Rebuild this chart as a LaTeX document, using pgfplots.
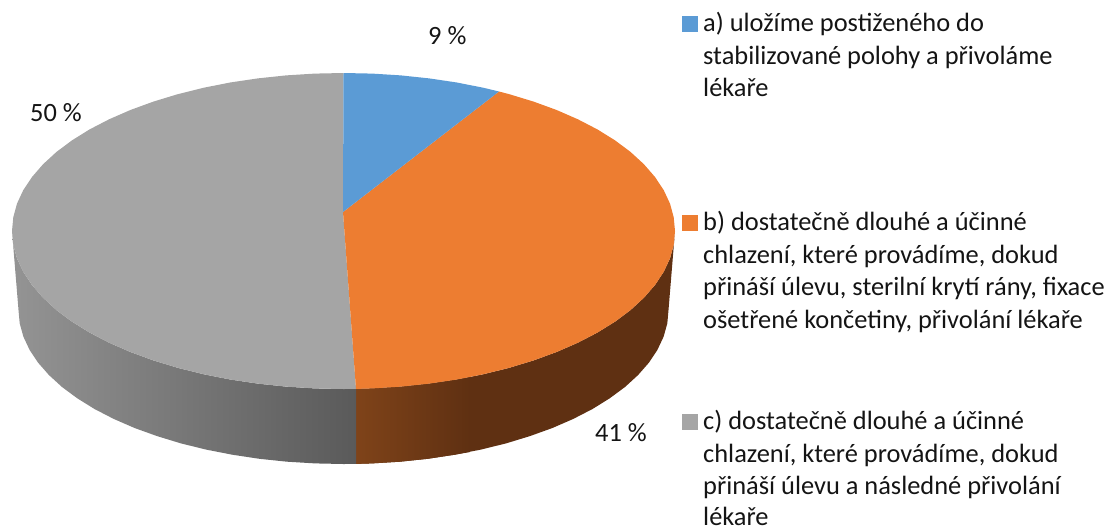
\documentclass[border=0pt]{standalone}
\usepackage{fontspec}
\setmainfont{Carlito}
\usepackage{pgfplots}
\pgfplotsset{compat=1.18}
\definecolor{cblue}{HTML}{5B9BD5}
\definecolor{corange}{HTML}{ED7D31}
\definecolor{cgray}{HTML}{A5A5A5}
\newcommand{\lt}[3]{\node[anchor=base west,inner sep=0pt,font=\fontsize{26.4}{30}\selectfont,text=black!92] at (axis cs:#1,#2) {#3};}
\begin{document}
\begin{tikzpicture}
\path[use as bounding box] (0,0) rectangle (1115pt,528pt);
\begin{axis}[
  at={(0,0)}, anchor=south west,
  scale only axis, width=1115pt, height=528pt,
  xmin=0, xmax=1115, ymin=0, ymax=528, y dir=reverse,
  hide axis, clip=false]
% side of the orange slice
\addplot[draw=none, fill={rgb,255:red,95;green,48;blue,18}] coordinates {
(356,388.9)(372.4,388.4)(401,386.6)(429.3,383.6)(456.9,379.5)(483.6,374.2)(509.3,367.8)(533.6,360.4)(556.6,352)(577.9,342.7)(597.4,332.6)(615.1,321.6)(630.6,310)(643.9,297.8)(655,285)(663.7,271.9)(670,258.4)(673.7,244.8)(675,231)
(668.5,310)(667.3,323.4)(663.6,336.7)(657.4,349.9)(648.9,362.7)(638,375.1)(625,387)(609.7,398.3)(592.5,409)(573.3,418.9)(552.4,428)(529.9,436.1)(506,443.4)(480.8,449.6)(454.7,454.7)(427.6,458.8)(399.9,461.7)(371.8,463.4)(356,463.9)};
\addplot[draw=none, left color={rgb,255:red,127;green,67;blue,25}, right color={rgb,255:red,95;green,48;blue,18}] coordinates {
(356,388.9)(372.4,388.4)(401,386.6)(429.3,383.6)(456.9,379.5)(470,377)
(470,452)(454.7,454.7)(427.6,458.8)(399.9,461.7)(371.8,463.4)(356,463.9)};
% side of the grey slice
\addplot[draw=none, left color={rgb,255:red,148;green,148;blue,148}, right color={rgb,255:red,90;green,90;blue,90}] coordinates {
(356,388.9)(343.5,389)(314.6,388.4)(286,386.6)(257.7,383.6)(230.1,379.5)(203.4,374.2)(177.7,367.8)(153.4,360.4)(130.4,352)(109.1,342.7)(89.6,332.6)(71.9,321.6)(56.4,310)(43.1,297.8)(32,285)(23.3,271.9)(17,258.4)(13.3,244.8)(12,231)
(18.5,310)(19.7,323.4)(23.4,336.7)(29.6,349.9)(38.1,362.7)(49,375.1)(62,387)(77.3,398.3)(94.5,409)(113.7,418.9)(134.6,428)(157.1,436.1)(181,443.4)(206.2,449.6)(232.3,454.7)(259.4,458.8)(287.1,461.7)(315.2,463.4)(343.5,464)(356,463.9)};
% top faces
\addplot[draw=none, fill=cgray] coordinates {
(343,212)(356,388.9)(343.5,389)(314.6,388.4)(286,386.6)(257.7,383.6)(230.1,379.5)(203.4,374.2)(177.7,367.8)(153.4,360.4)(130.4,352)(109.1,342.7)(89.6,332.6)(71.9,321.6)(56.4,310)(43.1,297.8)(32,285)(23.3,271.9)(17,258.4)(13.3,244.8)(12,231)
(13.3,217.2)(17,203.6)(23.3,190.1)(32,177)(43.1,164.2)(56.4,152)(71.9,140.4)(89.6,129.4)(109.1,119.3)(130.4,110)(153.4,101.6)(177.7,94.2)(203.4,87.8)(230.1,82.5)(257.7,78.4)(286,75.4)(314.6,73.6)(343.5,73)};
\addplot[draw=none, fill=corange] coordinates {
(343,212)(499,91.5)(509.3,94.2)(533.6,101.6)(556.6,110)(577.9,119.3)(597.4,129.4)(615.1,140.4)(630.6,152)(643.9,164.2)(655,177)(663.7,190.1)(670,203.6)(673.7,217.2)(675,231)
(673.7,244.8)(670,258.4)(663.7,271.9)(655,285)(643.9,297.8)(630.6,310)(615.1,321.6)(597.4,332.6)(577.9,342.7)(556.6,352)(533.6,360.4)(509.3,367.8)(483.6,374.2)(456.9,379.5)(429.3,383.6)(401,386.6)(372.4,388.4)(356,388.9)};
\addplot[draw=none, fill=cblue] coordinates {
(343,212)(343.5,73)(372.4,73.6)(401,75.4)(429.3,78.4)(456.9,82.5)(483.6,87.8)(499,91.5)};
% legend keys
\addplot[only marks, color=cblue, mark=square*, mark size=7.5pt, mark options={draw=cblue, fill=cblue, line width=0pt}] coordinates {(689.5,23.5)};
\addplot[only marks, color=corange, mark=square*, mark size=7.5pt, mark options={draw=corange, fill=corange, line width=0pt}] coordinates {(689.5,222.5)};
\addplot[only marks, color=cgray, mark=square*, mark size=7.5pt, mark options={draw=cgray, fill=cgray, line width=0pt}] coordinates {(689.5,421.5)};
% data labels
\lt{428}{44}{9 \%}
\lt{30}{121}{50 \%}
\lt{595}{441}{41 \%}
% legend text
\lt{703}{31}{a) uložíme postiženého do}
\lt{703}{64}{stabilizované polohy a přivoláme}
\lt{703}{96.5}{lékaře}
\lt{703}{230}{b) dostatečně dlouhé a účinné}
\lt{703}{263}{chlazení, které provádíme, dokud}
\lt{703}{295.5}{přináší úlevu, sterilní krytí rány, fixace}
\lt{703}{328}{ošetřené končetiny, přivolání lékaře}
\lt{703}{429}{c) dostatečně dlouhé a účinné}
\lt{703}{462}{chlazení, které provádíme, dokud}
\lt{703}{494}{přináší úlevu a následné přivolání}
\lt{703}{525.5}{lékaře}
\end{axis}
\end{tikzpicture}
\end{document}
